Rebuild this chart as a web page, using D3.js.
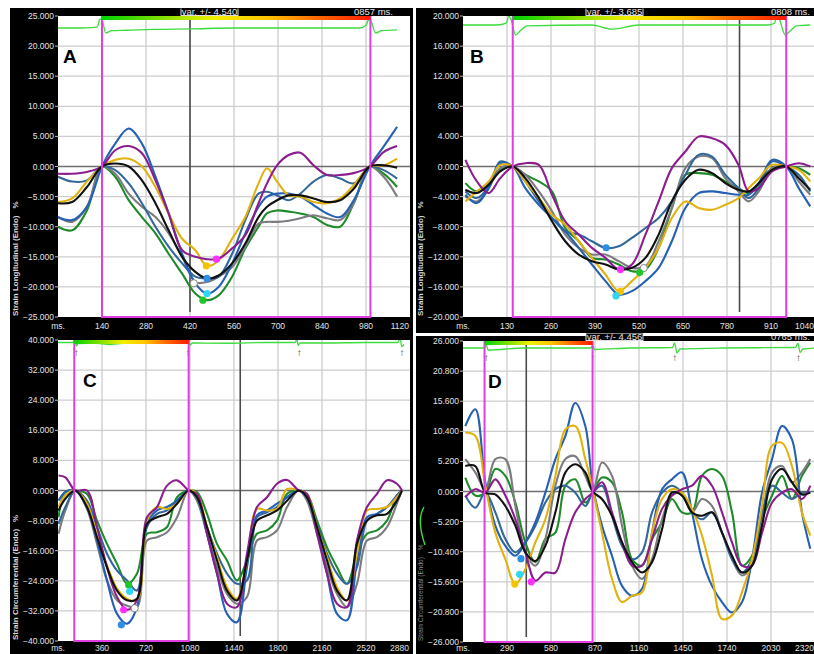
<!DOCTYPE html>
<html>
<head>
<meta charset="utf-8">
<script src="https://cdn.jsdelivr.net/npm/d3@7"></script>
<style>
  body { margin: 0; background: #fff; }
  svg { display: block; font-family: "Liberation Sans", Arial, sans-serif; }
</style>
</head>
<body>
<svg id="chart" width="814" height="654"></svg>
<script>
// ---- Panel A: longitudinal strain, one beat (ms / %) ----
const msA = [0,45,92,140,182,225,267,310,352,395,437,474,511,554,596,638,665,697,734,771,813,856,898,941,992,1036,1079];
const purpleA = [-1.2,-1.2,-0.9,0,2.7,3.4,2.2,-2.3,-7.8,-13.9,-15,-15.4,-15.3,-13.6,-11.4,-6.1,-2.8,0.2,1.9,2.3,0.2,-1.4,-1.4,-1.1,0,2.4,3.4];
const yellowA = [-5.9,-5.3,-2.5,0,1.1,1.3,0,-3.4,-7.8,-12,-13.9,-16.5,-15.6,-12,-8.4,-2.8,-0.3,-2.5,-4.8,-5,-5.9,-6.1,-5.3,-3.1,0,0.2,1.3];
const blackA = [-6.1,-5.9,-3.4,0,0.5,0,-2.3,-6.1,-10.6,-15,-17.5,-18.6,-18.1,-16.1,-12.8,-8.4,-6.7,-5.6,-4.8,-4.8,-5.3,-5.9,-5.6,-3.7,0,0.2,-0.2];
const blueA = [-8.4,-8.9,-6.7,0,3.8,6.3,3.8,-1.7,-7.8,-14.5,-19.4,-21.1,-20,-16.1,-11.1,-6.7,-5,-4.5,-4.5,-5,-6.4,-7.8,-8.4,-5.6,0,3.3,6.6];
const steelA = [-1.7,-2.5,-2.3,0,-0.6,-2.8,-6.1,-10,-13.3,-16.1,-18.3,-18.6,-18.3,-14.5,-8.9,-4.5,-4.2,-4.8,-5.6,-4.5,-2.5,-1.4,-2,-2.8,0,-0.6,-2];
const grayA = [-8.4,-9.2,-6.7,0,-1.2,-4.5,-6.7,-8.4,-11.1,-15,-19.2,-19.2,-18.3,-16.7,-13.3,-9.5,-9.2,-9.2,-9,-8.6,-8.1,-8.6,-8.9,-6.1,0,-1.7,-5];
const greenA = [-10,-10.6,-7.3,0,-1.7,-5.6,-8.4,-11.1,-14.5,-17.8,-21.1,-22.2,-21.4,-18.3,-13.6,-10,-7.8,-7.3,-7.5,-7.8,-8.4,-9.7,-10,-6.1,0,-1.2,-3.4];
const dotMsA = [504,472,474,474,432,461];
const dotValA = [-15.4,-16.5,-18.6,-21.1,-19.4,-22.2];
const dotKindA = ["magenta","yellow","blue","cyan","white","green"];
const ecgMsA = [0,70,124,134,140,152,170,220,300,420,560,700,840,960,980,990,998,1010,1030,1079];
const ecgValA = [0,0,0.1,1.0,0.9,-0.55,-0.3,-0.25,-0.15,-0.1,0,0,0,0,0.3,1.0,0.6,-0.55,-0.3,-0.2];

// ---- Panel B ----
const msB = [7,41,76,110,147,184,224,263,302,342,381,421,460,499,539,578,617,657,696,736,775,814,844,874,913,955,992,1026];
const purpleB = [0.88,-1.99,-3.53,-1.55,0,0.44,0.22,-3.75,-7.28,-9.05,-10.82,-12.14,-13.69,-13.02,-9.05,-4.64,-0.22,1.99,3.97,3.75,2.87,0.2,-3.3,-2.87,-0.66,0,0.44,0];
const blueB = [-3.75,-4.86,-2.87,0.44,0,-2.87,-5.08,-6.84,-8.61,-10.82,-13.02,-15.23,-17,-16.56,-15.23,-13.47,-9.93,-5.52,-3.53,-3.31,-3.53,-3.75,-3.75,-2.21,0.88,0,-2.87,-5.3];
const steelB = [-3.31,-4.19,-2.65,0.66,0,-1.99,-4.64,-6.84,-8.61,-9.05,-9.93,-10.82,-10.6,-9.49,-8.17,-6.84,-4.64,-1.1,1.55,1.32,-1.1,-2.87,-4.19,-2.87,0.66,0,-1.1,-3.31];
const yellowB = [-4.64,-3.31,-1.99,0.22,0,-1.99,-4.19,-6.4,-7.73,-9.93,-12.14,-14.35,-16.56,-15.23,-13.47,-10.82,-6.84,-4.64,-5.52,-5.74,-5.08,-4.19,-2.87,-1.55,0.22,0,-0.44,-1.99];
const blackB = [-3.09,-3.53,-2.43,-0.66,0,-1.55,-4.19,-7.28,-9.93,-11.7,-12.58,-13.02,-13.69,-13.47,-12.14,-9.05,-4.64,-1.77,-0.44,-0.88,-2.21,-3.09,-3.31,-2.21,-0.44,0,-1.55,-3.09];
const grayB = [-3.97,-4.64,-2.87,-0.22,0,-1.1,-3.31,-5.96,-9.05,-10.82,-11.7,-11.7,-12.58,-13.47,-13.25,-9.93,-5.52,-0.22,1.32,1.1,-1.55,-3.31,-4.64,-3.31,-0.22,0,-1.99,-3.75];
const greenB = [-2.21,-3.31,-2.21,-0.44,0,-1.1,-1.99,-3.31,-8.17,-9.93,-12.14,-12.36,-13.02,-13.91,-13.69,-10.82,-5.52,-1.1,-0.88,-1.1,-1.99,-2.87,-3.53,-2.43,-0.22,0,-0.22,-1.1];
const dotMsB = [423,465,534,522,465,452];
const dotValB = [-10.8,-13.7,-13.5,-14.1,-16.6,-17.2];
const dotKindB = ["blue","magenta","white","green","yellow","cyan"];
const ecgMsB = [0,100,128,135,142,155,170,190,380,440,520,700,900,920,928,935,952,968,985,1026];
const ecgValB = [0,0,0.2,1.0,0.6,-1.1,-0.6,-0.1,0,-0.45,0,0,0,0.2,1.0,0.6,-1.1,-0.6,-0.1,0];

// ---- Panel C: circumferential strain, three beats ----
const msC = [5,60,142,237,319,401,483,565,646,728,810,892,974,1069,1137,1219,1301,1383,1464,1546,1628,1710,1792,1874,1969,2037,2119,2201,2283,2364,2446,2528,2610,2692,2773,2814];
const purpleC = [4,3.5,0,0,-9.7,-20.4,-28.3,-31.7,-29.2,-7.1,-4.4,1.3,2.7,0,-0.9,-11.5,-22.1,-30.1,-31,-16.8,-4.4,-1.8,1.8,2.8,0,-0.9,-11.5,-22.1,-30.1,-31,-13.3,-4.4,-0.9,2.7,1.8,0];
const yellowC = [-4.4,-1.3,0,-3.5,-12,-19.9,-26.1,-28.8,-29.2,-8,-4.4,-4.9,-3.5,0,-0.9,-9.7,-17.7,-25.7,-28.8,-18.6,-4.9,-5.3,-4.9,0.4,0,-0.9,-9.7,-17.7,-25.7,-29.2,-16.8,-5.3,-4.9,-4.4,-1.8,0];
const blackC = [-5.3,-2.2,0,-4.4,-12.4,-20.4,-26.6,-29.2,-28.8,-8.9,-7.1,-6.2,-3.5,0,-1.8,-9.7,-18.6,-26.6,-29.2,-18.6,-8,-6.6,-5.3,-2.7,0,-1.8,-9.7,-18.6,-26.6,-29.2,-14.2,-8,-6.6,-6.2,-2.7,0];
const blueC = [-2.7,-0.4,0,-4.4,-13.3,-23.9,-32.8,-35.4,-31,-8.9,-5.3,-4.4,-2.7,0,-1.8,-11.5,-22.1,-32.8,-35,-20.4,-6.6,-5.3,-3.5,-1.8,0,-1.8,-10.6,-22.1,-32.8,-34.5,-18.6,-7.1,-6.2,-4.4,-1.3,0];
const steelC = [-8.9,-4.4,0,-2.7,-9.7,-16.8,-21.3,-23.9,-26.6,-9.7,-6.2,-5.3,-2.7,0,-1.8,-9.7,-16.8,-22.1,-24.8,-23.9,-7.1,-5.8,-4.4,-1.8,0,-1.8,-8.9,-16.8,-22.1,-24.8,-20.4,-8,-6.2,-4.4,-1.8,0];
const grayC = [-11.5,-5.3,0,-4.9,-14.2,-23.9,-29.2,-30.6,-31,-13.3,-12.4,-11.1,-7.1,0,-2.7,-11.5,-20.4,-27.5,-30.1,-28.3,-13.3,-12.4,-10.6,-4.4,0,-2.7,-11.5,-20.4,-27.5,-31,-24.8,-13.3,-12.4,-9.7,-3.5,0];
const greenC = [-7.1,-0.4,0,-0.9,-8,-14.2,-19.5,-24.8,-22.1,-11.5,-11.1,-9.7,-1.8,0,-0.4,-6.2,-14.2,-18.6,-23.9,-18.6,-11.5,-10.6,-8,-0.9,0,-0.9,-8,-15.1,-20.4,-24.8,-16.8,-11.5,-10.6,-8,-1.3,0];
const dotMsC = [578,586,537,627,518];
const dotValC = [-25.1,-26.8,-31.7,-31.3,-35.7];
const dotKindC = ["green","cyan","magenta","white","blue"];
const ecgMsC = [0,120,142,150,165,300,430,560,700,1000,1060,1069,1080,1100,1400,1700,1940,1955,1965,1980,2200,2500,2780,2800,2812,2830];
const ecgValC = [0,0,0.5,-0.7,-0.2,-0.1,-0.4,-0.1,0,0,0.1,0.6,-0.5,-0.1,-0.15,0,0,0.7,-0.6,-0.1,-0.1,0,0,0.8,-0.8,-0.4];
const arrowMsC = [150,1064,1974,2814];

// ---- Panel D ----
const msD = [15,81,147,213,279,345,411,477,543,609,675,740,806,855,916,982,1048,1114,1180,1246,1312,1377,1443,1509,1575,1641,1707,1773,1839,1905,1971,2037,2103,2168,2234,2289];
const blueD = [11.3,14.2,1.6,-5.9,-9.4,-11.1,-8.8,-5.3,-0.2,5.6,9.6,15.3,11.3,1,-5.9,-11.1,-16.3,-18,-16.8,-7.1,0.4,2.1,3.3,-3.6,-11.7,-16.3,-19.1,-20.9,-19.1,-11.7,-0.2,5.6,11.3,9,-3.6,-9.9];
const yellowD = [10.2,9.6,1,-7.1,-11.7,-16,-13.4,-8.8,-4.8,2.7,10.7,11.3,5.6,0.4,-7.1,-15.1,-19.1,-18,-17.4,-7.1,-1.3,0.4,-0.2,-3,-7.6,-14.5,-22,-21.4,-17.4,-11.7,-2.5,7.9,8.4,4.4,-3.6,-7.6];
const blackD = [4.4,4.4,-0.2,-0.5,-2.5,-5.9,-10.5,-12,-9.4,-3.6,3.3,4.7,3.3,0,-1.3,-4.2,-8.8,-12.2,-14,-12.2,-6.5,-0.2,-0.7,-3.6,-4.2,-3.6,-7.1,-11.1,-14,-12.8,-5.9,2.1,3.9,1.6,-0.5,-0.2];
const greenD = [2.4,-0.7,-0.2,3.9,2.7,-1.9,-8.8,-12.2,-8.2,-7.1,1,2.1,-1.9,-0.2,2.4,1.6,-3.6,-11.7,-12.8,-8.2,-5.3,-1.3,-3.6,-3.6,2.7,3.9,2.7,-3.6,-12.8,-11.1,-4.8,-0.7,2.7,-1.3,2.7,5];
const purpleD = [-1,0.4,-0.2,2.1,-0.7,-4.8,-10.5,-15.4,-14,-14,-8.2,-3.6,-1.3,-0.2,1.6,-3.6,-8.8,-12.8,-12.8,-8.2,-3,-0.7,0.4,1,2.7,1,-3.6,-8.8,-12.8,-12.8,-7.1,-1.9,-0.2,0.4,-1.3,1];
const steelD = [-0.7,-2.8,-0.2,-3.6,-8.2,-10.5,-8.8,-5.9,-1.9,0.4,1,-0.2,-2.5,-0.2,1,-4.2,-9.4,-11.7,-10.5,-3.6,-0.2,1,-0.2,-3.6,-4.8,-3.6,-7.1,-11.7,-14,-11.7,-3.6,1,-0.2,-1.3,-0.2,-0.2];
const grayD = [5.6,3.3,0.4,5.6,5.6,-2.5,-10.5,-12.8,-8.2,1,5.6,6.1,2.7,0.1,5,2.7,-5.9,-12.8,-15.1,-11.7,-4.8,-0.7,-0.2,-3.6,-1.3,-2.5,-7.1,-11.7,-14.5,-12.8,-4.8,3.3,4.4,1.6,3.3,5.6];
const dotMsD = [341,373,382,450];
const dotValD = [-16,-14.3,-11.6,-15.6];
const dotKindD = ["yellow","cyan","blue","magenta"];
const ecgMsD = [0,140,154,165,400,840,855,868,1100,1380,1395,1410,1430,1700,2190,2208,2222,2240,2320];
const ecgValD = [0,0,0.6,-0.4,0,0,0.4,-0.3,0,0.1,1.0,-1.0,-0.2,0,0.1,0.9,-0.9,-0.2,0];
const arrowMsD = [154,855,1395,2212];

// ---- styles ----
const lineColors = {green: "#1f8a2a", gray: "#7c7c80", steel: "#33689a", blue: "#2560b2",
                    yellow: "#e1b20e", purple: "#8b1e8e", black: "#111111"};
const dotColors = {magenta: "#ff30ff", yellow: "#f4c400", blue: "#2e8ee4", cyan: "#30d6f6",
                   white: "#ffffff", green: "#22c42c"};
const drawOrder = ["green", "gray", "steel", "blue", "yellow", "purple", "black"];

const panels = [
    {label: "A", ox: 0, oy: 0, letterX: 63, xMax: 1120, xStep: 140, yMax: 25, yStep: 5,
     title: "Strain Longitudinal (Endo)", ms: msA,
     series: {purple: purpleA, yellow: yellowA, black: blackA, blue: blueA, steel: steelA, gray: grayA, green: greenA},
     dots: {ms: dotMsA, v: dotValA, kind: dotKindA},
     roi: [140, 994], cursor: 420, ecg: {ms: ecgMsA, v: ecgValA, base: 12, unit: 9},
     varText: "var. +/- 4.540", durText: "0857 ms.", durX: 393},
    {label: "B", ox: 405, oy: 0, letterX: 65, xMax: 1040, xStep: 130, yMax: 20, yStep: 4,
     title: "Strain Longitudinal (Endo)", ms: msB,
     series: {purple: purpleB, yellow: yellowB, black: blackB, blue: blueB, steel: steelB, gray: grayB, green: greenB},
     dots: {ms: dotMsB, v: dotValB, kind: dotKindB},
     roi: [147, 955], cursor: 817, ecg: {ms: ecgMsB, v: ecgValB, base: 9, unit: 9},
     varText: "var. +/- 3.685", durText: "0808 ms.", durX: 405},
    {label: "C", ox: 0, oy: 324, letterX: 83, xMax: 2880, xStep: 360, yMax: 40, yStep: 8,
     title: "Strain Circumferential (Endo)", ms: msC,
     series: {purple: purpleC, yellow: yellowC, black: blackC, blue: blueC, steel: steelC, gray: grayC, green: greenC},
     dots: {ms: dotMsC, v: dotValC, kind: dotKindC},
     roi: [133, 1069], cursor: 1491, ecg: {ms: ecgMsC, v: ecgValC, base: 2.5, unit: 5}, arrows: arrowMsC, arrowDy: 16},
    {label: "D", ox: 405, oy: 325, letterX: 83, xMax: 2320, xStep: 290, yMax: 26, yStep: 5.2,
     title: "Strain Circumferential (Endo)", ms: msD, faintTitle: true,
     series: {purple: purpleD, yellow: yellowD, black: blackD, blue: blueD, steel: steelD, gray: grayD, green: greenD},
     dots: {ms: dotMsD, v: dotValD, kind: dotKindD},
     roi: [142, 854], cursor: 417, ecg: {ms: ecgMsD, v: ecgValD, base: 7, unit: 5}, arrows: arrowMsD, arrowDy: 20,
     varText: "var. +/- 4.456", durText: "0765 ms.", durX: 405}
];

const svg = d3.select("#chart");
const defs = svg.append("defs");
const fmt = d3.format(".3f");

// black instrument frames
const frames = [[10, 8, 403, 325], [416, 8, 398, 325], [10, 333, 403, 321], [416, 336, 398, 318]];
svg.selectAll("rect.frame").data(frames).join("rect")
    .attr("class", "frame")
    .attr("x", d => d[0]).attr("y", d => d[1])
    .attr("width", d => d[2]).attr("height", d => d[3])
    .attr("fill", "#000");

panels.forEach(p => {
    const left = p.ox + 58, right = p.ox + 410;
    const top = p.oy + 16, bottom = p.oy + 317;
    const x = d3.scaleLinear().domain([0, p.xMax]).range([left, right]);
    const y = d3.scaleLinear().domain([-p.yMax, p.yMax]).range([bottom, top]);
    const g = svg.append("g");

    const clipId = "clip" + p.label;
    defs.append("clipPath").attr("id", clipId)
        .append("rect").attr("x", left).attr("y", top)
        .attr("width", right - left).attr("height", bottom - top);

    // plot background
    g.append("rect").attr("x", left).attr("y", top)
        .attr("width", right - left).attr("height", bottom - top).attr("fill", "#fff");

    // grid
    const xTicks = d3.range(0, 9).map(i => i * p.xStep);
    const yTicks = d3.range(-5, 6).map(i => i * p.yStep);
    g.selectAll("line.vg").data(xTicks.slice(1, 8)).join("line")
        .attr("x1", d => x(d)).attr("x2", d => x(d))
        .attr("y1", top).attr("y2", bottom)
        .attr("stroke", "#cdcdcd").attr("stroke-width", 1.3);
    g.selectAll("line.hg").data(yTicks.slice(1, 10)).join("line")
        .attr("x1", left).attr("x2", right)
        .attr("y1", d => y(d)).attr("y2", d => y(d))
        .attr("stroke", d => Math.abs(d) < 1e-9 ? "#6e6e6e" : "#cdcdcd")
        .attr("stroke-width", d => Math.abs(d) < 1e-9 ? 1.4 : 1.3);

    // cursor line
    g.append("line")
        .attr("x1", x(p.cursor)).attr("x2", x(p.cursor))
        .attr("y1", top).attr("y2", bottom - 5)
        .attr("stroke", "#4a4a4a").attr("stroke-width", 1.6);

    // ECG trace
    const ecgY = v => top + p.ecg.base - v * p.ecg.unit;
    const ecgPts = p.ecg.ms.map((m, i) => [x(m), ecgY(p.ecg.v[i])]);
    g.append("path")
        .attr("d", d3.line().curve(d3.curveMonotoneX)(ecgPts))
        .attr("clip-path", `url(#${clipId})`)
        .attr("fill", "none").attr("stroke", "#3ddc3d").attr("stroke-width", 1.3);

    if (p.arrows) {
        g.selectAll("text.arrow").data(p.arrows).join("text")
            .attr("x", d => x(d)).attr("y", top + p.arrowDy)
            .attr("text-anchor", "middle")
            .attr("font-size", 10).attr("font-weight", "bold").attr("fill", "#333")
            .text("\u2191");
    }

    // strain curves
    const line = d3.line().curve(d3.curveCatmullRom.alpha(0.5));
    const curves = g.append("g").attr("clip-path", `url(#${clipId})`);
    drawOrder.forEach(key => {
        const vals = p.series[key];
        curves.append("path")
            .attr("d", line(p.ms.map((m, i) => [x(m), y(vals[i])])))
            .attr("fill", "none")
            .attr("stroke", lineColors[key])
            .attr("stroke-width", 2.1)
            .attr("stroke-linejoin", "round");
    });

    // peak markers
    curves.selectAll("circle").data(p.dots.ms.map((m, i) => i)).join("circle")
        .attr("cx", i => x(p.dots.ms[i])).attr("cy", i => y(p.dots.v[i]))
        .attr("r", 3.6)
        .attr("fill", i => dotColors[p.dots.kind[i]])
        .attr("stroke", i => p.dots.kind[i] === "white" ? "#888" : "none")
        .attr("stroke-width", 1);

    // region of interest (magenta) and timing bar
    const gradId = "grad" + p.label;
    const grad = defs.append("linearGradient").attr("id", gradId);
    [["0%", "#00d400"], ["22%", "#7ee000"], ["42%", "#f2ee00"], ["62%", "#ffc400"],
     ["80%", "#ff6a00"], ["100%", "#ff1a00"]].forEach(s => {
        grad.append("stop").attr("offset", s[0]).attr("stop-color", s[1]);
    });
    g.append("path")
        .attr("d", `M${x(p.roi[0])},${top} V${bottom} H${x(p.roi[1])} V${top}`)
        .attr("fill", "none").attr("stroke", "#e03ee0").attr("stroke-width", 2);
    g.append("rect")
        .attr("x", x(p.roi[0])).attr("y", top)
        .attr("width", x(p.roi[1]) - x(p.roi[0])).attr("height", 4)
        .attr("fill", `url(#${gradId})`);

    // header texts in the black strip
    if (p.varText) {
        const hdrClip = "hdr" + p.label;
        defs.append("clipPath").attr("id", hdrClip)
            .append("rect").attr("x", p.ox).attr("y", p.oy + 8.5)
            .attr("width", 410).attr("height", 7.5);
        const hg = g.append("g").attr("clip-path", `url(#${hdrClip})`);
        hg.append("rect")
            .attr("x", p.ox + 181).attr("y", p.oy + 5)
            .attr("width", 57).attr("height", 10.5)
            .attr("fill", "#000").attr("stroke", "#ddd").attr("stroke-width", 1);
        hg.append("text")
            .attr("x", p.ox + 209.5).attr("y", p.oy + 14.5)
            .attr("text-anchor", "middle").attr("font-size", 9.5).attr("fill", "#e6e6e6")
            .text(p.varText);
        hg.append("text")
            .attr("x", p.ox + p.durX).attr("y", p.oy + 14.5)
            .attr("text-anchor", "end").attr("font-size", 9.5).attr("fill", "#e6e6e6")
            .text(p.durText);
    }

    // axes labels
    g.selectAll("text.yl").data(yTicks).join("text")
        .attr("x", left - 4).attr("y", d => y(d) + 3)
        .attr("text-anchor", "end").attr("font-size", 8.5).attr("fill", "#e2e2e2")
        .text(d => fmt(d));
    g.selectAll("line.yt").data(yTicks).join("line")
        .attr("x1", left - 3).attr("x2", left)
        .attr("y1", d => y(d)).attr("y2", d => y(d))
        .attr("stroke", "#bbb").attr("stroke-width", 1);
    const labelY = Math.min(bottom + 12, 651);
    g.selectAll("text.xl").data(xTicks).join("text")
        .attr("x", (d, i) => i === 8 ? right - 1 : x(d))
        .attr("y", labelY)
        .attr("text-anchor", (d, i) => i === 8 ? "end" : "middle")
        .attr("font-size", 8.5).attr("fill", "#e2e2e2")
        .text((d, i) => i === 0 ? "ms." : d);

    // y-axis title
    const tx = p.ox + 18, ty = p.oy + 316;
    const title = g.append("text")
        .attr("transform", `translate(${tx},${ty}) rotate(-90)`)
        .attr("font-weight", p.faintTitle ? "normal" : "bold")
        .attr("font-size", p.faintTitle ? 6.5 : 8)
        .attr("fill", p.faintTitle ? "#8a8a8a" : "#d8d8d8");
    title.append("tspan").text(p.title);
    title.append("tspan").attr("dx", 7).text("%");
    if (p.faintTitle) {
        const sq = [[0, 0], [-3, 6], [-4, 14], [-3, 24], [-1, 32], [1, 38]];
        g.append("path")
            .attr("d", d3.line().curve(d3.curveBasis)(sq.map(s => [tx + 1 + s[0], p.oy + 182 + s[1]])))
            .attr("fill", "none").attr("stroke", "#3ddc3d").attr("stroke-width", 1.4);
    }

    // panel letter
    g.append("text")
        .attr("x", p.ox + p.letterX).attr("y", p.oy + 63)
        .attr("font-size", 19).attr("font-weight", "bold").attr("fill", "#000")
        .text(p.label);
});
</script>
</body>
</html>
